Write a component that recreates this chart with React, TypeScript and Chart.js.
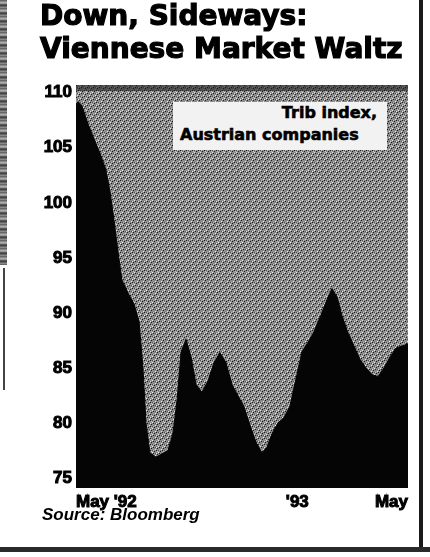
import React, { useEffect, useRef } from "react";
import { Chart, registerables } from "chart.js";

Chart.register(...registerables);

// Months since May 1992 (0 = May '92, 8 = Jan '93, 12 = May '93)
const months = [
  0, 0.07, 0.22, 0.43, 0.65, 0.87, 1.08, 1.23, 1.37, 1.52, 1.66, 1.88, 2.1, 2.28,
  2.42, 2.53, 2.67, 2.89, 3.11, 3.32, 3.5, 3.65, 3.8, 3.98, 4.16, 4.34, 4.55,
  4.77, 4.99, 5.2, 5.42, 5.64, 5.85, 6.07, 6.29, 6.5, 6.72, 6.9, 7.08, 7.3,
  7.52, 7.73, 7.95, 8.17, 8.38, 8.6, 8.82, 9.04, 9.25, 9.43, 9.61, 9.83, 10.05,
  10.26, 10.48, 10.7, 10.91, 11.13, 11.35, 11.56, 11.78, 12,
];
// Trib index, Austrian companies
const tribIndex = [
  108.8, 109.2, 108.8, 107.2, 105.8, 104.5, 103, 101, 98.5, 95.5, 93, 91.8, 90.8,
  89.2, 85, 80, 77.3, 76.9, 77.2, 77.5, 79, 82, 86.5, 87.6, 86, 83.5, 82.8, 83.8,
  85.5, 86.4, 85.5, 83.5, 82.5, 81.5, 79.8, 78.3, 77.3, 77.8, 79, 80, 80.5, 81.5,
  84, 86.5, 87.3, 88.3, 89.6, 91, 92.2, 91.5, 89.8, 88.2, 87, 85.8, 85, 84.4,
  84.2, 85, 86, 86.8, 87, 87.2,
];
const xTickMonths = [0, 8, 12];
const xTickLabels = ["May '92", "'93", "May"];
const yTickValues = [75, 80, 85, 90, 95, 100, 105, 110];

const TITLE_1 = "Down, Sideways:";
const TITLE_2 = "Viennese Market Waltz";
const LEGEND_1 = "Trib index,";
const LEGEND_2 = "Austrian companies";
const SOURCE = "Source: Bloomberg";

function makePattern(): CanvasPattern | string {
  const c = document.createElement("canvas");
  c.width = 6;
  c.height = 6;
  const g = c.getContext("2d");
  if (!g) return "#888";
  g.fillStyle = "#8c8c8c";
  g.fillRect(0, 0, 6, 6);
  g.fillStyle = "#1a1a1a";
  g.fillRect(0, 0, 1, 1);
  g.fillRect(3, 3, 1, 1);
  g.fillRect(1, 4, 1, 1);
  g.fillRect(4, 1, 1, 1);
  g.fillStyle = "#555";
  g.fillRect(2, 0, 1, 1);
  g.fillRect(5, 3, 1, 1);
  g.fillStyle = "#e8e8e8";
  g.fillRect(2, 2, 1, 1);
  g.fillRect(5, 5, 1, 1);
  g.fillRect(0, 3, 1, 1);
  g.fillStyle = "#c0c0c0";
  g.fillRect(3, 0, 1, 1);
  g.fillRect(1, 1, 1, 1);
  const p = g.createPattern(c, "repeat");
  return p || "#888";
}

export default function App() {
  const canvasRef = useRef<HTMLCanvasElement | null>(null);

  useEffect(() => {
    const canvas = canvasRef.current;
    if (!canvas) return;
    const pattern = makePattern();
    const bgPlugin = {
      id: "plotBg",
      beforeDraw(chart: any) {
        const { ctx, chartArea } = chart;
        if (!chartArea) return;
        ctx.save();
        ctx.fillStyle = pattern;
        ctx.fillRect(chartArea.left, chartArea.top, chartArea.right - chartArea.left, chartArea.bottom - chartArea.top);
        ctx.fillStyle = "rgba(30,30,30,0.6)";
        ctx.fillRect(chartArea.left, chartArea.top, chartArea.right - chartArea.left, 6);
        ctx.restore();
      },
    };
    const tickFont = { family: "'Liberation Sans', Arial, sans-serif", weight: "bold", size: 17 };
    const chart = new Chart(canvas, {
      type: "line",
      data: {
        datasets: [
          {
            label: LEGEND_1 + " " + LEGEND_2,
            data: months.map((m, i) => ({ x: m, y: tribIndex[i] })),
            borderColor: "#050505",
            backgroundColor: "#050505",
            borderWidth: 1,
            fill: "start",
            pointRadius: 0,
            tension: 0,
          },
        ],
      },
      options: {
        responsive: false,
        animation: false,
        devicePixelRatio: 1,
        layout: { padding: { top: 85, right: 22, bottom: 39, left: 0 } },
        plugins: { legend: { display: false }, tooltip: { enabled: false } },
        scales: {
          x: {
            type: "linear",
            min: 0,
            max: 12,
            grid: { display: false, drawTicks: false },
            border: { display: false },
            afterBuildTicks: (scale: any) => {
              scale.ticks = xTickMonths.map((v) => ({ value: v }));
            },
            afterFit: (scale: any) => {
              scale.height = 30;
            },
            ticks: {
              autoSkip: false,
              maxRotation: 0,
              minRotation: 0,
              align: "inner",
              padding: 4,
              color: "#000",
              textStrokeColor: "#000",
              textStrokeWidth: 1,
              font: tickFont,
              callback: (v: any) => {
                const i = xTickMonths.indexOf(Number(v));
                return i >= 0 ? xTickLabels[i] : "";
              },
            },
          },
          y: {
            min: 74.1,
            max: 110.7,
            grid: { display: false, drawTicks: false },
            border: { display: false },
            afterBuildTicks: (scale: any) => {
              scale.ticks = yTickValues.map((v) => ({ value: v }));
            },
            afterFit: (scale: any) => {
              scale.width = 76;
            },
            ticks: {
              padding: 4,
              color: "#000",
              textStrokeColor: "#000",
              textStrokeWidth: 1,
              font: tickFont,
            },
          },
        },
      },
      plugins: [bgPlugin],
    } as any);
    return () => chart.destroy();
  }, []);

  const heavy = "'DejaVu Sans', sans-serif";
  return (
    <div style={{ position: "absolute", left: 0, top: 0, width: 430, height: 557, background: "#fff", overflow: "hidden" }}>
      <canvas ref={canvasRef} width={430} height={557} style={{ position: "absolute", left: 0, top: 0, width: 430, height: 557 }} />
      <div
        style={{
          position: "absolute",
          left: 40,
          top: -1,
          fontFamily: heavy,
          fontWeight: "bold",
          fontSize: 28,
          lineHeight: "33px",
          color: "#000",
          whiteSpace: "nowrap",
          WebkitTextStroke: "1.2px #000",
        }}
      >
        <div>{TITLE_1}</div>
        <div>{TITLE_2}</div>
      </div>
      <div
        style={{
          position: "absolute",
          left: 173,
          top: 102,
          width: 214,
          height: 48,
          background: "#f2f2f2",
          fontFamily: heavy,
          fontWeight: "bold",
          fontSize: 16,
          lineHeight: "22px",
          color: "#000",
          whiteSpace: "nowrap",
          WebkitTextStroke: "0.6px #000",
        }}
      >
        <div style={{ textAlign: "right", paddingRight: 10 }}>{LEGEND_1}</div>
        <div style={{ paddingLeft: 7 }}>{LEGEND_2}</div>
      </div>
      <div
        style={{
          position: "absolute",
          left: 42,
          top: 505,
          fontFamily: "'Liberation Sans', Arial, sans-serif",
          fontWeight: "bold",
          fontStyle: "italic",
          fontSize: 17,
          lineHeight: "20px",
          color: "#000",
          whiteSpace: "nowrap",
        }}
      >
        {SOURCE}
      </div>
      <div style={{ position: "absolute", left: 419, top: 0, width: 4, height: 552, background: "#1a1a1a" }} />
      <div style={{ position: "absolute", left: 0, top: 547, width: 430, height: 5, background: "#2a2a2a" }} />
      <div
        style={{
          position: "absolute",
          left: 0,
          top: 0,
          width: 7,
          height: 265,
          background: "repeating-linear-gradient(180deg, #555 0px, #bbb 3px, #333 5px, #999 8px)",
        }}
      />
      <div style={{ position: "absolute", left: 3, top: 268, width: 2, height: 122, background: "#444" }} />
    </div>
  );
}
